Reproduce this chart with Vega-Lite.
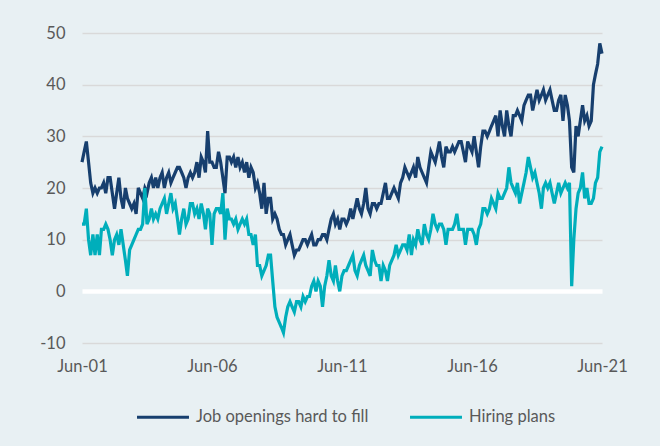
{
 "$schema": "https://vega.github.io/schema/vega-lite/v6.json",
 "width": 520, "height": 310,
 "autosize": "none",
 "padding": {"left": 82, "top": 33, "right": 58, "bottom": 103},
 "background": "#e8f0f3",
 "config": {"view": {"stroke": null}, "font": "Lato"},
 "data": {"values": [
{"d":"2001/06/01","j":25,"h":13},{"d":"2001/07/01","j":27,"h":13},{"d":"2001/08/01","j":29,"h":16},{"d":"2001/09/01","j":25,"h":10},{"d":"2001/10/01","j":21,"h":7},{"d":"2001/11/01","j":19,"h":11},{"d":"2001/12/01","j":20,"h":7},
{"d":"2002/01/01","j":19,"h":11},{"d":"2002/02/01","j":20,"h":7},{"d":"2002/03/01","j":20,"h":12},{"d":"2002/04/01","j":21,"h":12},{"d":"2002/05/01","j":19,"h":13},{"d":"2002/06/01","j":22,"h":12},{"d":"2002/07/01","j":22,"h":10},{"d":"2002/08/01","j":19,"h":7},{"d":"2002/09/01","j":16,"h":10},{"d":"2002/10/01","j":19,"h":11},{"d":"2002/11/01","j":22,"h":9},{"d":"2002/12/01","j":18,"h":12},
{"d":"2003/01/01","j":16,"h":9},{"d":"2003/02/01","j":20,"h":6},{"d":"2003/03/01","j":18,"h":3},{"d":"2003/04/01","j":17,"h":8},{"d":"2003/05/01","j":16,"h":9},{"d":"2003/06/01","j":17,"h":10},{"d":"2003/07/01","j":15,"h":11},{"d":"2003/08/01","j":20,"h":12},{"d":"2003/09/01","j":19,"h":12},{"d":"2003/10/01","j":18,"h":13},{"d":"2003/11/01","j":20,"h":20},{"d":"2003/12/01","j":19,"h":13},
{"d":"2004/01/01","j":21,"h":14},{"d":"2004/02/01","j":22,"h":16},{"d":"2004/03/01","j":20,"h":14},{"d":"2004/04/01","j":22,"h":15},{"d":"2004/05/01","j":20,"h":14},{"d":"2004/06/01","j":22,"h":16},{"d":"2004/07/01","j":23,"h":17},{"d":"2004/08/01","j":20,"h":18},{"d":"2004/09/01","j":22,"h":15},{"d":"2004/10/01","j":23,"h":17},{"d":"2004/11/01","j":21,"h":19},{"d":"2004/12/01","j":22,"h":16},
{"d":"2005/01/01","j":23,"h":17},{"d":"2005/02/01","j":24,"h":14},{"d":"2005/03/01","j":24,"h":11},{"d":"2005/04/01","j":23,"h":14},{"d":"2005/05/01","j":22,"h":16},{"d":"2005/06/01","j":20,"h":13},{"d":"2005/07/01","j":22,"h":14},{"d":"2005/08/01","j":23,"h":17},{"d":"2005/09/01","j":22,"h":17},{"d":"2005/10/01","j":23,"h":15},{"d":"2005/11/01","j":25,"h":16},{"d":"2005/12/01","j":22,"h":14},
{"d":"2006/01/01","j":26,"h":17},{"d":"2006/02/01","j":25,"h":15},{"d":"2006/03/01","j":23,"h":12},{"d":"2006/04/01","j":31,"h":16},{"d":"2006/05/01","j":25,"h":15},{"d":"2006/06/01","j":25,"h":9},{"d":"2006/07/01","j":24,"h":15},{"d":"2006/08/01","j":24,"h":16},{"d":"2006/09/01","j":27,"h":16},{"d":"2006/10/01","j":25,"h":15},{"d":"2006/11/01","j":22,"h":19},{"d":"2006/12/01","j":19,"h":10},
{"d":"2007/01/01","j":26,"h":16},{"d":"2007/02/01","j":26,"h":14},{"d":"2007/03/01","j":25,"h":14},{"d":"2007/04/01","j":26,"h":13},{"d":"2007/05/01","j":24,"h":14},{"d":"2007/06/01","j":26,"h":12},{"d":"2007/07/01","j":24,"h":13},{"d":"2007/08/01","j":25,"h":14},{"d":"2007/09/01","j":23,"h":13},{"d":"2007/10/01","j":25,"h":14},{"d":"2007/11/01","j":22,"h":11},{"d":"2007/12/01","j":24,"h":11},
{"d":"2008/01/01","j":23,"h":9},{"d":"2008/02/01","j":20,"h":11},{"d":"2008/03/01","j":21,"h":5},{"d":"2008/04/01","j":19,"h":5},{"d":"2008/05/01","j":16,"h":3},{"d":"2008/06/01","j":21,"h":4},{"d":"2008/07/01","j":15,"h":5},{"d":"2008/08/01","j":18,"h":7},{"d":"2008/09/01","j":18,"h":7},{"d":"2008/10/01","j":14,"h":2},{"d":"2008/11/01","j":15,"h":-3},{"d":"2008/12/01","j":14,"h":-5},
{"d":"2009/01/01","j":12,"h":-6},{"d":"2009/02/01","j":11,"h":-7},{"d":"2009/03/01","j":11,"h":-8},{"d":"2009/04/01","j":9,"h":-5},{"d":"2009/05/01","j":10,"h":-3},{"d":"2009/06/01","j":11,"h":-2},{"d":"2009/07/01","j":9,"h":-3},{"d":"2009/08/01","j":7,"h":-4},{"d":"2009/09/01","j":8,"h":-2},{"d":"2009/10/01","j":8,"h":-2},{"d":"2009/11/01","j":9,"h":-3},{"d":"2009/12/01","j":10,"h":-1},
{"d":"2010/01/01","j":10,"h":-2},{"d":"2010/02/01","j":9,"h":-1},{"d":"2010/03/01","j":10,"h":-1},{"d":"2010/04/01","j":11,"h":1},{"d":"2010/05/01","j":9,"h":2},{"d":"2010/06/01","j":9,"h":0},{"d":"2010/07/01","j":10,"h":2},{"d":"2010/08/01","j":10,"h":1},{"d":"2010/09/01","j":11,"h":-3},{"d":"2010/10/01","j":11,"h":1},{"d":"2010/11/01","j":10,"h":3},{"d":"2010/12/01","j":12,"h":6},
{"d":"2011/01/01","j":14,"h":3},{"d":"2011/02/01","j":15,"h":2},{"d":"2011/03/01","j":13,"h":5},{"d":"2011/04/01","j":14,"h":2},{"d":"2011/05/01","j":12,"h":0},{"d":"2011/06/01","j":14,"h":3},{"d":"2011/07/01","j":14,"h":4},{"d":"2011/08/01","j":13,"h":4},{"d":"2011/09/01","j":14,"h":5},{"d":"2011/10/01","j":16,"h":6},{"d":"2011/11/01","j":14,"h":7},{"d":"2011/12/01","j":16,"h":4},
{"d":"2012/01/01","j":18,"h":3},{"d":"2012/02/01","j":16,"h":5},{"d":"2012/03/01","j":15,"h":6},{"d":"2012/04/01","j":17,"h":7},{"d":"2012/05/01","j":20,"h":5},{"d":"2012/06/01","j":16,"h":4},{"d":"2012/07/01","j":15,"h":3},{"d":"2012/08/01","j":17,"h":8},{"d":"2012/09/01","j":17,"h":6},{"d":"2012/10/01","j":16,"h":5},{"d":"2012/11/01","j":17,"h":5},{"d":"2012/12/01","j":17,"h":2},
{"d":"2013/01/01","j":19,"h":5},{"d":"2013/02/01","j":21,"h":4},{"d":"2013/03/01","j":18,"h":2},{"d":"2013/04/01","j":18,"h":5},{"d":"2013/05/01","j":19,"h":6},{"d":"2013/06/01","j":20,"h":7},{"d":"2013/07/01","j":19,"h":9},{"d":"2013/08/01","j":18,"h":7},{"d":"2013/09/01","j":21,"h":8},{"d":"2013/10/01","j":22,"h":9},{"d":"2013/11/01","j":24,"h":9},{"d":"2013/12/01","j":23,"h":8},
{"d":"2014/01/01","j":22,"h":11},{"d":"2014/02/01","j":23,"h":7},{"d":"2014/03/01","j":24,"h":10},{"d":"2014/04/01","j":22,"h":9},{"d":"2014/05/01","j":26,"h":12},{"d":"2014/06/01","j":24,"h":10},{"d":"2014/07/01","j":23,"h":9},{"d":"2014/08/01","j":22,"h":13},{"d":"2014/09/01","j":21,"h":11},{"d":"2014/10/01","j":24,"h":10},{"d":"2014/11/01","j":27,"h":12},{"d":"2014/12/01","j":26,"h":15},
{"d":"2015/01/01","j":25,"h":13},{"d":"2015/02/01","j":27,"h":12},{"d":"2015/03/01","j":29,"h":13},{"d":"2015/04/01","j":26,"h":13},{"d":"2015/05/01","j":24,"h":12},{"d":"2015/06/01","j":28,"h":9},{"d":"2015/07/01","j":27,"h":12},{"d":"2015/08/01","j":27,"h":12},{"d":"2015/09/01","j":28,"h":12},{"d":"2015/10/01","j":27,"h":13},{"d":"2015/11/01","j":28,"h":15},{"d":"2015/12/01","j":29,"h":12},
{"d":"2016/01/01","j":29,"h":12},{"d":"2016/02/01","j":27,"h":12},{"d":"2016/03/01","j":25,"h":9},{"d":"2016/04/01","j":29,"h":12},{"d":"2016/05/01","j":28,"h":12},{"d":"2016/06/01","j":27,"h":12},{"d":"2016/07/01","j":30,"h":11},{"d":"2016/08/01","j":27,"h":9},{"d":"2016/09/01","j":24,"h":12},{"d":"2016/10/01","j":28,"h":13},{"d":"2016/11/01","j":31,"h":16},{"d":"2016/12/01","j":31,"h":16},
{"d":"2017/01/01","j":30,"h":15},{"d":"2017/02/01","j":31,"h":16},{"d":"2017/03/01","j":32,"h":18},{"d":"2017/04/01","j":33,"h":17},{"d":"2017/05/01","j":34,"h":16},{"d":"2017/06/01","j":30,"h":19},{"d":"2017/07/01","j":35,"h":18},{"d":"2017/08/01","j":32,"h":18},{"d":"2017/09/01","j":30,"h":19},{"d":"2017/10/01","j":35,"h":20},{"d":"2017/11/01","j":32,"h":24},{"d":"2017/12/01","j":30,"h":21},
{"d":"2018/01/01","j":34,"h":20},{"d":"2018/02/01","j":34,"h":19},{"d":"2018/03/01","j":35,"h":21},{"d":"2018/04/01","j":34,"h":17},{"d":"2018/05/01","j":33,"h":19},{"d":"2018/06/01","j":36,"h":21},{"d":"2018/07/01","j":37,"h":23},{"d":"2018/08/01","j":38,"h":26},{"d":"2018/09/01","j":38,"h":24},{"d":"2018/10/01","j":35,"h":22},{"d":"2018/11/01","j":37,"h":23},{"d":"2018/12/01","j":39,"h":21},
{"d":"2019/01/01","j":37,"h":19},{"d":"2019/02/01","j":38,"h":16},{"d":"2019/03/01","j":39,"h":20},{"d":"2019/04/01","j":37,"h":21},{"d":"2019/05/01","j":38,"h":20},{"d":"2019/06/01","j":39,"h":21},{"d":"2019/07/01","j":37,"h":19},{"d":"2019/08/01","j":35,"h":17},{"d":"2019/09/01","j":35,"h":19},{"d":"2019/10/01","j":37,"h":21},{"d":"2019/11/01","j":38,"h":19},{"d":"2019/12/01","j":33,"h":20},
{"d":"2020/01/01","j":38,"h":21},{"d":"2020/02/01","j":36,"h":20},{"d":"2020/03/01","j":33,"h":21},{"d":"2020/04/01","j":24,"h":1},{"d":"2020/05/01","j":23,"h":10},{"d":"2020/06/01","j":32,"h":16},{"d":"2020/07/01","j":30,"h":19},{"d":"2020/08/01","j":33,"h":20},{"d":"2020/09/01","j":36,"h":23},{"d":"2020/10/01","j":33,"h":18},{"d":"2020/11/01","j":34,"h":20},{"d":"2020/12/01","j":32,"h":17},
{"d":"2021/01/01","j":33,"h":17},{"d":"2021/02/01","j":40,"h":18},{"d":"2021/03/01","j":42,"h":21},{"d":"2021/04/01","j":44,"h":22},{"d":"2021/05/01","j":48,"h":27},{"d":"2021/06/01","j":46,"h":28}
 ]},
 "transform": [{"fold": ["j", "h"], "as": ["s", "v"]}],
 "mark": {"type": "line", "strokeWidth": 3.2},
 "encoding": {
  "x": {"field": "d", "type": "temporal",
   "scale": {"domain": [{"year": 2001, "month": 6, "date": 1}, {"year": 2021, "month": 6, "date": 1}]},
   "axis": {"values": [{"year": 2001, "month": 6, "date": 1}, {"year": 2006, "month": 6, "date": 1}, {"year": 2011, "month": 6, "date": 1}, {"year": 2016, "month": 6, "date": 1}, {"year": 2021, "month": 6, "date": 1}],
    "format": "%b-%y", "title": null, "grid": false, "domain": false, "ticks": false, "labelFlush": false,
    "labelFontSize": 16.5, "labelColor": "#595959", "labelPadding": 15}},
  "y": {"field": "v", "type": "quantitative", "scale": {"domain": [-10, 50]},
   "axis": {"values": [-10, 0, 10, 20, 30, 40, 50], "title": null, "domain": false, "ticks": false,
    "labelExpr": "'' + datum.value",
    "labelFontSize": 16.5, "labelColor": "#595959", "labelPadding": 17,
    "gridColor": {"condition": {"test": "datum.value === 0", "value": "#ffffff"}, "value": "#d9d9d9"},
    "gridWidth": {"condition": {"test": "datum.value === 0", "value": 4.5}, "value": 1.5}}},
  "color": {"field": "s", "type": "nominal",
   "scale": {"domain": ["j", "h"], "range": ["#173f6e", "#00aebb"]},
   "legend": {"title": null, "orient": "none", "legendX": 53, "legendY": 356, "direction": "horizontal",
    "symbolType": "stroke", "symbolSize": 2700, "symbolStrokeWidth": 3.2, "labelLimit": 400,
    "labelFontSize": 16.5, "labelColor": "#595959", "columnPadding": 34, "labelOffset": 5,
    "labelExpr": "datum.value === 'j' ? 'Job openings hard to fill' : 'Hiring plans'"}}
 }
}
